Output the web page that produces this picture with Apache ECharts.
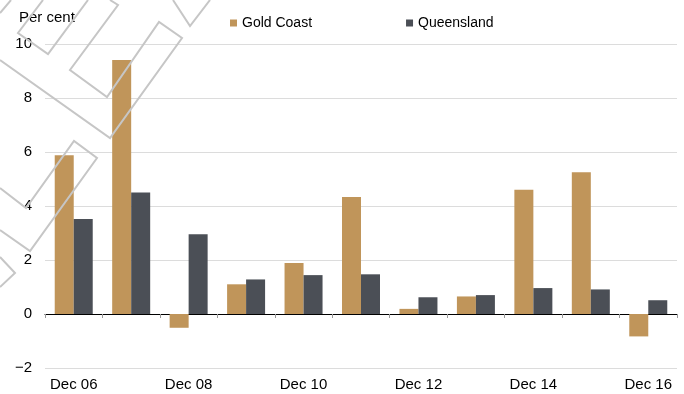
<!DOCTYPE html>
<html>
<head>
<meta charset="utf-8">
<script src="https://cdn.jsdelivr.net/npm/echarts@6/dist/echarts.min.js"></script>
<style>
html,body{margin:0;padding:0;background:#fff;}
#chart{width:684px;height:394px;}
</style>
</head>
<body>
<div id="chart"></div>
<script>
var categories = ["Dec 06","Dec 07","Dec 08","Dec 09","Dec 10","Dec 11","Dec 12","Dec 13","Dec 14","Dec 15","Dec 16"];
var goldCoast = [5.88, 9.41, -0.51, 1.10, 1.89, 4.33, 0.19, 0.65, 4.60, 5.25, -0.83];
var queensland = [3.52, 4.50, 2.95, 1.28, 1.44, 1.47, 0.62, 0.70, 0.96, 0.91, 0.51];
var seriesNames = ["Gold Coast", "Queensland"];
var yTicks = [-2, 0, 2, 4, 6, 8, 10];

var FONT = "Liberation Sans, Arial, sans-serif";
var chart = echarts.init(document.getElementById('chart'), null, {renderer: 'canvas'});

var wmStyle = {stroke: '#c6c6c6', lineWidth: 2, fill: null};
function wm(points) {
  return {type: 'polyline', shape: {points: points}, style: wmStyle, z: 100, silent: true};
}

var option = {
  animation: false,
  backgroundColor: '#ffffff',
  title: {
    text: 'Per cent', left: 19, top: 10, padding: 0,
    textStyle: {fontFamily: FONT, fontSize: 15, fontWeight: 'normal', color: '#000'}
  },
  legend: {
    left: 230, top: 16, padding: 0,
    itemWidth: 7, itemHeight: 7, itemGap: 94,
    icon: 'rect',
    data: seriesNames,
    textStyle: {fontFamily: FONT, fontSize: 14, color: '#000'}
  },
  grid: {left: 45, right: 7, top: 44, bottom: 26, containLabel: false},
  xAxis: [
    {
      type: 'category', data: categories, position: 'bottom',
      axisLine: {onZero: true, lineStyle: {color: '#000', width: 1}},
      axisTick: {show: true, length: 4, interval: 0, lineStyle: {color: '#999'}},
      axisLabel: {show: false},
      splitLine: {show: false}
    },
    {
      type: 'category', data: categories, position: 'bottom',
      axisLine: {show: false, onZero: false},
      axisTick: {show: false},
      axisLabel: {show: true, interval: 1, margin: 9, fontFamily: FONT, fontSize: 15, color: '#000'},
      splitLine: {show: false}
    }
  ],
  yAxis: {
    type: 'value', min: yTicks[0], max: yTicks[yTicks.length - 1], interval: 2,
    axisLine: {show: false}, axisTick: {show: false},
    axisLabel: {margin: 13, fontFamily: FONT, fontSize: 15, color: '#000',
      formatter: function (v) { return String(v).replace('-', '\u2212'); }},
    splitLine: {show: true, lineStyle: {color: '#dcdcdc', width: 1}}
  },
  series: [
    {name: seriesNames[0], type: 'bar', xAxisIndex: 0, data: goldCoast, barWidth: 19, barGap: '0%',
     itemStyle: {color: '#C0955A'}},
    {name: seriesNames[1], type: 'bar', xAxisIndex: 0, data: queensland, barWidth: 19, barGap: '0%',
     itemStyle: {color: '#4B4F56'}}
  ],
  graphic: [
    wm([[0,13],[11,0]]),
    wm([[43,0],[18,33],[48,54],[88,0]]),
    wm([[0,60],[110,138],[182,38],[159,22],[107,97],[70,70],[118,5],[110,0]]),
    wm([[173,0],[190,26],[210,0]]),
    wm([[0,188],[26,208],[74,141],[97,158],[30,251],[0,230]]),
    wm([[0,257],[15,273],[0,287]])
  ]
};
chart.setOption(option);
</script>
</body>
</html>
